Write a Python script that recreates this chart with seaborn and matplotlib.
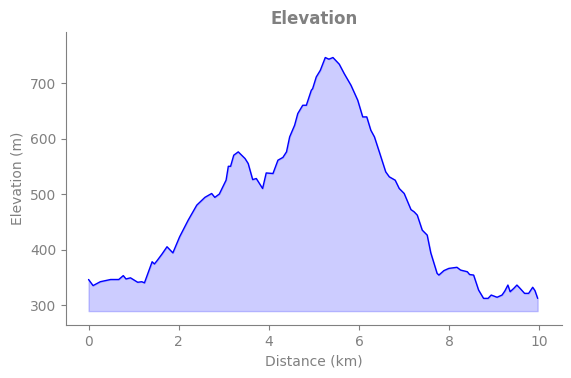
import numpy as np
import pandas as pd
import matplotlib
matplotlib.use("Agg")
import matplotlib.pyplot as plt
import seaborn as sns

# elevation profile
distance_km = [0.00, 0.10, 0.26, 0.49, 0.67, 0.77, 0.83, 0.93, 1.09, 1.18, 1.24,
               1.41, 1.46, 1.52, 1.63, 1.74, 1.87, 2.02, 2.21, 2.40, 2.58, 2.73,
               2.80, 2.90, 3.05, 3.10, 3.15, 3.22, 3.32, 3.47, 3.54, 3.64, 3.72,
               3.86, 3.94, 4.09, 4.20, 4.31, 4.39, 4.46, 4.57, 4.64, 4.75, 4.83,
               4.94, 4.97, 5.05, 5.14, 5.25, 5.33, 5.42, 5.56, 5.67, 5.82, 5.97,
               6.08, 6.17, 6.26, 6.34, 6.46, 6.59, 6.67, 6.80, 6.89, 7.00, 7.15,
               7.22, 7.29, 7.40, 7.51, 7.59, 7.73, 7.77, 7.88, 7.99, 8.17, 8.25,
               8.40, 8.45, 8.54, 8.65, 8.76, 8.86, 8.93, 9.06, 9.17, 9.23, 9.30,
               9.35, 9.43, 9.50, 9.57, 9.67, 9.76, 9.85, 9.90, 9.96]
elevation_m = [346, 335, 342, 346, 346, 353, 347, 349, 341, 342, 340,
               378, 374, 380, 392, 405, 394, 423, 453, 480, 494, 501,
               494, 500, 525, 550, 550, 570, 576, 564, 555, 526, 528,
               510, 538, 537, 561, 566, 576, 603, 624, 645, 660, 660,
               687, 690, 711, 723, 746, 743, 746, 734, 717, 696, 669,
               639, 639, 615, 603, 573, 540, 531, 525, 510, 501, 472,
               468, 462, 435, 426, 394, 357, 354, 362, 366, 368, 363,
               360, 355, 354, 327, 312, 312, 318, 314, 318, 325, 336,
               324, 330, 336, 330, 321, 321, 332, 326, 312]
fill_base = 289

df = pd.DataFrame({"Distance (km)": distance_km, "Elevation (m)": elevation_m})

sns.set_style("ticks")
grey = "#808080"
plt.rcParams["text.color"] = grey
plt.rcParams["axes.labelcolor"] = grey
plt.rcParams["xtick.color"] = grey
plt.rcParams["ytick.color"] = grey
plt.rcParams["axes.edgecolor"] = grey

fig = plt.figure(figsize=(5.71, 3.78), dpi=100)
ax = fig.add_axes([66 / 571, 1 - 325 / 378, (562 - 66) / 571, (325 - 32) / 378])

sns.lineplot(data=df, x="Distance (km)", y="Elevation (m)", color="blue", linewidth=1, ax=ax)
ax.fill_between(df["Distance (km)"], df["Elevation (m)"], fill_base, color="blue", alpha=0.2)

ax.set_xlim(-0.5, 10.5)
ax.set_ylim(264, 792)
ax.set_yticks([300, 400, 500, 600, 700])
ax.set_xticks([0, 2, 4, 6, 8, 10])
ax.set_title("Elevation", fontsize=12, fontweight="bold", color=grey)
sns.despine(ax=ax)

fig.savefig("out.png", dpi=100)
